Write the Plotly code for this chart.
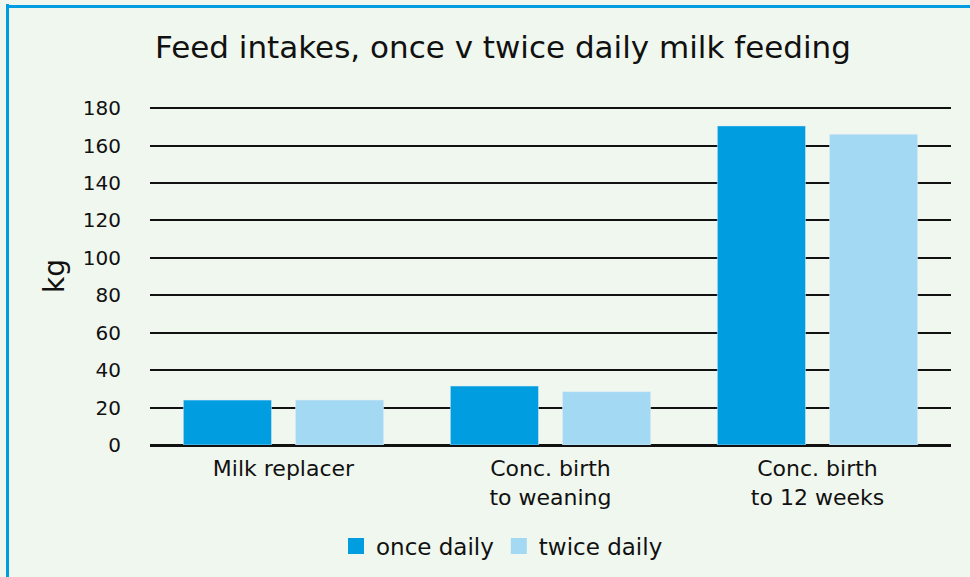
import plotly.graph_objects as go

categories = ["Milk replacer", "Conc. birth<br>to weaning", "Conc. birth<br>to 12 weeks"]
series_names = ["once daily", "twice daily"]
once_daily = [24, 31.5, 170.5]
twice_daily = [24, 28.5, 166]
y_ticks = [0, 20, 40, 60, 80, 100, 120, 140, 160, 180]

BG = "#F0F7EE"
BLUE = "#009EE0"
LIGHT = "#A3D9F3"
FONT = "DejaVu Sans, Open Sans, sans-serif"

fig = go.Figure()
for name, vals, col in [(series_names[0], once_daily, BLUE), (series_names[1], twice_daily, LIGHT)]:
    fig.add_trace(go.Bar(name=name, x=categories, y=vals, marker_color=col, showlegend=False))
    fig.add_trace(go.Scatter(name=name, x=[None], y=[None], mode="markers",
                             marker=dict(symbol="square", size=16, color=col), showlegend=True))

L, R, T, B = 150, 19, 107, 132
W, H = 970, 577
pw = W - L - R
ph = H - T - B

def px(x):
    return (x - L) / pw

def py(y):
    return (H - B - y) / ph

fig.update_layout(
    width=W, height=H,
    margin=dict(l=L, r=R, t=T, b=B, autoexpand=False),
    paper_bgcolor=BG, plot_bgcolor=BG,
    font=dict(family=FONT, color="#111111", size=20),
    title=dict(text="Feed intakes, once v twice daily milk feeding",
               x=px(503), xref="paper", xanchor="center", y=1 - 47 / H, yanchor="middle",
               font=dict(size=31, color="#111111")),
    barmode="group", bargap=0.16, bargroupgap=0.214,
    showlegend=True,
    legend=dict(orientation="h", xref="container", yref="container", x=502 / W, xanchor="center",
                y=1 - 546 / H, yanchor="middle",
                font=dict(size=23), bgcolor="rgba(0,0,0,0)", itemwidth=30, traceorder="normal"),
    shapes=[
        dict(type="line", xref="paper", yref="paper", x0=px(7.5), x1=px(7.5), y0=py(4), y1=py(580),
             line=dict(color=BLUE, width=3), layer="above"),
    ],
)
fig.update_yaxes(range=[0, 180.6], tickvals=y_ticks, showgrid=True, gridcolor="#111111", gridwidth=2,
                 zeroline=True, zerolinecolor="#111111", zerolinewidth=3, showline=False,
                 ticklabelstandoff=28, tickfont=dict(size=20), automargin=False,
                 title=dict(text="kg", font=dict(size=28), standoff=10))
fig.update_xaxes(showline=False, showgrid=False, tickfont=dict(size=22), ticklabelstandoff=8,
                 automargin=False)

frame_js = (
    "document.body.style.margin='0';document.body.style.overflow='hidden';"
    "var f=document.createElement('div');"
    "f.style.cssText='position:fixed;left:6px;top:5px;right:0;height:0;"
    "border-top:3px solid " + BLUE + ";pointer-events:none;z-index:10;';"
    "document.body.appendChild(f);"
)
fig.write_html("out.html", config={"displayModeBar": False}, post_script=frame_js)
